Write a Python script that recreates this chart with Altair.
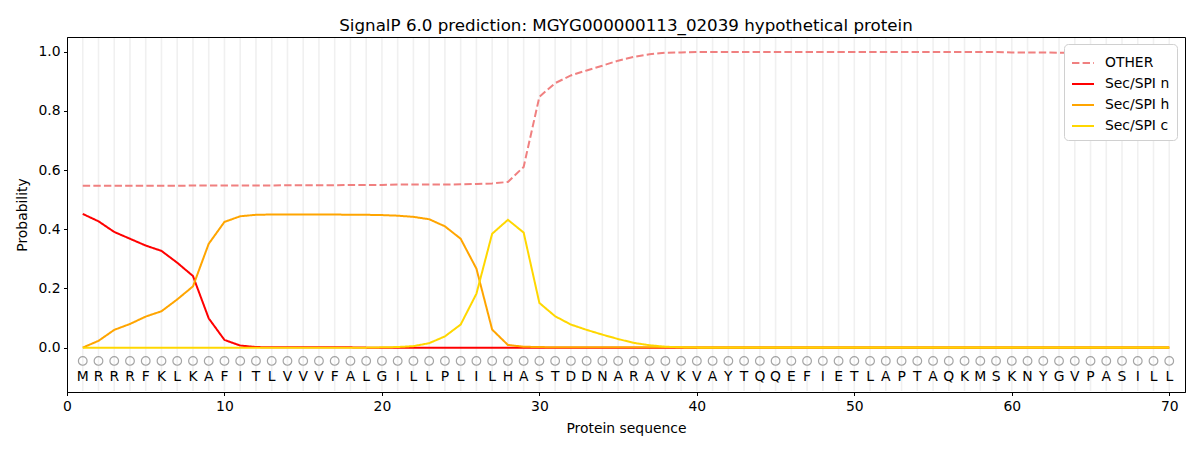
import altair as alt
import pandas as pd

sequence = list("MRRRFKLKAFITLVVVFALGILLPLILHASTDDNARAVKVAYTQQEFIETLAPTAQKMSKNYGVPASILL")
positions = list(range(1, 71))

other = [0.547, 0.547, 0.547, 0.547, 0.547, 0.547, 0.547, 0.548, 0.548, 0.548,
         0.548, 0.548, 0.548, 0.549, 0.549, 0.549, 0.549, 0.550, 0.550, 0.550,
         0.551, 0.551, 0.551, 0.551, 0.552, 0.553, 0.555, 0.560, 0.611, 0.848,
         0.894, 0.920, 0.937, 0.953, 0.970, 0.983, 0.992, 0.997, 0.998, 0.999,
         0.999, 0.999, 0.999, 0.999, 0.999, 0.999, 0.999, 0.999, 0.999, 0.999,
         0.999, 0.999, 0.999, 0.999, 0.999, 0.999, 0.999, 0.999, 0.999, 0.998,
         0.998, 0.998, 0.997, 0.997, 0.997, 0.997, 0.997, 0.997, 0.997, 0.997]

sp_n = [0.452, 0.427, 0.391, 0.368, 0.345, 0.327, 0.287, 0.242, 0.099, 0.026,
        0.007, 0.002, 0.001, 0.001, 0.001, 0.001, 0.001, 0.001, 0.000, 0.000,
        0.000, 0.000, 0.000, 0.000, 0.000, 0.000, 0.000, 0.000, 0.000, 0.000,
        0.000, 0.000, 0.000, 0.000, 0.000, 0.000, 0.000, 0.000, 0.000, 0.000,
        0.000, 0.000, 0.000, 0.000, 0.000, 0.000, 0.000, 0.000, 0.000, 0.000,
        0.000, 0.000, 0.000, 0.000, 0.000, 0.000, 0.000, 0.000, 0.000, 0.000,
        0.000, 0.000, 0.000, 0.000, 0.000, 0.000, 0.000, 0.000, 0.000, 0.000]

sp_h = [0.000, 0.023, 0.060, 0.080, 0.105, 0.123, 0.163, 0.207, 0.351, 0.425,
        0.444, 0.449, 0.450, 0.450, 0.450, 0.450, 0.450, 0.449, 0.449, 0.448,
        0.446, 0.442, 0.434, 0.410, 0.368, 0.267, 0.061, 0.009, 0.003, 0.002,
        0.001, 0.001, 0.001, 0.001, 0.001, 0.001, 0.001, 0.001, 0.001, 0.001,
        0.001, 0.001, 0.001, 0.001, 0.001, 0.001, 0.001, 0.001, 0.001, 0.001,
        0.001, 0.001, 0.001, 0.001, 0.001, 0.001, 0.001, 0.001, 0.001, 0.001,
        0.001, 0.001, 0.001, 0.001, 0.001, 0.001, 0.001, 0.001, 0.001, 0.001]

sp_c = [0.000, 0.000, 0.000, 0.000, 0.000, 0.000, 0.000, 0.000, 0.000, 0.000,
        0.000, 0.000, 0.000, 0.000, 0.000, 0.000, 0.000, 0.000, 0.000, 0.001,
        0.002, 0.005, 0.015, 0.038, 0.078, 0.182, 0.385, 0.432, 0.389, 0.151,
        0.106, 0.078, 0.060, 0.044, 0.029, 0.016, 0.008, 0.003, 0.001, 0.000,
        0.000, 0.000, 0.000, 0.000, 0.000, 0.000, 0.000, 0.000, 0.000, 0.000,
        0.000, 0.000, 0.000, 0.000, 0.000, 0.000, 0.000, 0.000, 0.000, 0.000,
        0.000, 0.000, 0.000, 0.000, 0.000, 0.000, 0.000, 0.000, 0.000, 0.000]

series_names = ["OTHER", "Sec/SPI n", "Sec/SPI h", "Sec/SPI c"]
series_colors = ["#f08080", "#ff0000", "#ffa500", "#ffd700"]
series_dash = [[7.4, 3.2], [1, 0], [1, 0], [1, 0]]

rows = []
for name, vals in zip(series_names, [other, sp_n, sp_h, sp_c]):
    for p, v in zip(positions, vals):
        rows.append({"pos": p, "prob": v, "series": name})
lines_df = pd.DataFrame(rows)

seq_df = pd.DataFrame({"pos": positions, "aa": sequence,
                       "ycirc": [-0.045] * 70, "ytext": [-0.10] * 70})

FONT = "DejaVu Sans"
xscale = alt.Scale(domain=[0, 71], nice=False, zero=False)
yscale = alt.Scale(domain=[-0.15, 1.05], nice=False, zero=False)

grid = alt.Chart(seq_df).mark_rule(color="#f0f0f0", strokeWidth=1.6).encode(
    x=alt.X("pos:Q", scale=xscale,
            axis=alt.Axis(values=[0, 10, 20, 30, 40, 50, 60, 70], title="Protein sequence",
                          grid=False, labelFlush=False)),
    y=alt.value(1),
    y2=alt.value(354),
)

lines = alt.Chart(lines_df).mark_line(strokeWidth=2).encode(
    x=alt.X("pos:Q", scale=xscale),
    y=alt.Y("prob:Q", scale=yscale,
            axis=alt.Axis(values=[0, 0.2, 0.4, 0.6, 0.8, 1.0], format=".1f",
                          title="Probability", grid=False)),
    color=alt.Color("series:N", sort=series_names,
                    scale=alt.Scale(domain=series_names, range=series_colors),
                    legend=alt.Legend(title=None)),
    strokeDash=alt.StrokeDash("series:N", sort=series_names,
                              scale=alt.Scale(domain=series_names, range=series_dash),
                              legend=alt.Legend(title=None)),
    order=alt.Order("pos:Q"),
)

circles = alt.Chart(seq_df).mark_point(shape="circle", filled=False, size=75,
                                       stroke="#808080", strokeWidth=1.2).encode(
    x=alt.X("pos:Q", scale=xscale),
    y=alt.Y("ycirc:Q", scale=yscale),
)

letters = alt.Chart(seq_df).mark_text(font=FONT, fontSize=13.9, color="black",
                                      baseline="middle", align="center").encode(
    x=alt.X("pos:Q", scale=xscale),
    y=alt.Y("ytext:Q", scale=yscale),
    text="aa:N",
)

chart = alt.layer(grid, lines, circles, letters).properties(
    width=1118, height=355,
    title=alt.TitleParams("SignalP 6.0 prediction: MGYG000000113_02039 hypothetical protein",
                          font=FONT, fontSize=16.7, fontWeight="normal", color="black",
                          anchor="middle", offset=2),
    autosize=alt.AutoSizeParams(type="none"),
    padding={"left": 59, "top": 29, "right": 7, "bottom": 50},
).configure_view(stroke="black", strokeWidth=1).configure_axis(
    domain=True, domainColor="black", domainWidth=1,
    ticks=True, tickColor="black", tickSize=3.5, tickWidth=1,
    labelFont=FONT, labelFontSize=13.9, labelColor="black", labelPadding=3.5,
    titleFont=FONT, titleFontSize=13.9, titleColor="black", titleFontWeight="normal",
).configure_axisX(titlePadding=9).configure_axisY(titlePadding=8).configure_legend(
    orient="none", legendX=997, legendY=7,
    fillColor="white", strokeColor="#d0d0d0", cornerRadius=4, padding=7,
    labelFont=FONT, labelFontSize=13.9, labelColor="black",
    symbolType="stroke", symbolSize=484, symbolStrokeWidth=2,
    rowPadding=2, labelOffset=10,
)

chart.save("out.html", embed_options={"renderer": "svg", "actions": False})
